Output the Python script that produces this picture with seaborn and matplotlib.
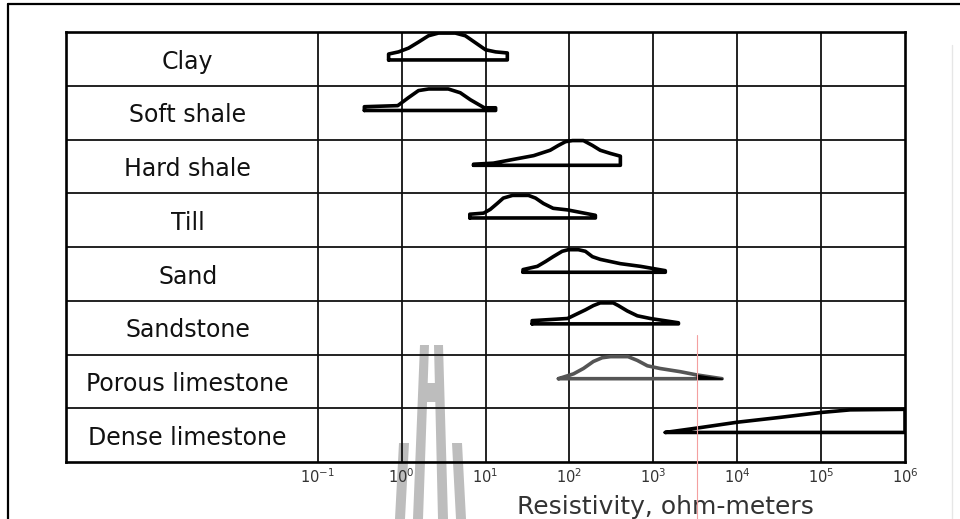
import numpy as np
import pandas as pd
import matplotlib
matplotlib.use("Agg")
import matplotlib.pyplot as plt
import seaborn as sns
from matplotlib.lines import Line2D
from matplotlib.patches import Polygon
from matplotlib.ticker import NullLocator

# ---------------- data ----------------
rocks = ["Clay", "Soft shale", "Hard shale", "Till", "Sand",
         "Sandstone", "Porous limestone", "Dense limestone"]

# level of the base line of each range, as fraction of row height
baseline = [0.48, 0.54, 0.52, 0.54, 0.53, 0.57, 0.55, 0.55]

# upper outline of each range: resistivity (ohm-m) and height (fraction of row)
clay_res = [0.70, 0.92, 1.21, 1.58, 2.09, 2.75, 4.37, 5.75, 7.59, 10, 13.2, 18.2]
clay_frac = [0.59, 0.63, 0.70, 0.81, 0.93, 0.98, 0.98, 0.93, 0.80, 0.67, 0.63, 0.61]

softshale_res = [0.36, 0.90, 1.21, 1.59, 2.1, 3.6, 5.0, 6.6, 8.3, 9.7, 13.2]
softshale_frac = [0.61, 0.63, 0.78, 0.91, 0.94, 0.94, 0.87, 0.74, 0.65, 0.59, 0.59]

hardshale_res = [7.2, 12.4, 21.5, 37.5, 59, 74, 90, 109, 147, 188, 233, 309, 405]
hardshale_frac = [0.54, 0.56, 0.63, 0.70, 0.80, 0.89, 0.96, 0.98, 0.98, 0.89, 0.80, 0.74, 0.69]

till_res = [6.5, 9.5, 11.4, 13.8, 16.3, 21, 32.5, 39.5, 49, 64, 95, 204]
till_frac = [0.61, 0.63, 0.70, 0.81, 0.91, 0.96, 0.96, 0.91, 0.81, 0.72, 0.69, 0.59]

sand_res = [28, 41.5, 52, 64, 82, 97, 128, 155, 188, 233, 405, 705, 1390]
sand_frac = [0.58, 0.64, 0.73, 0.82, 0.92, 0.95, 0.95, 0.92, 0.82, 0.77, 0.69, 0.64, 0.56]

sandstone_res = [36, 95, 125, 155, 193, 233, 333, 383, 490, 645, 920, 1995]
sandstone_frac = [0.63, 0.67, 0.76, 0.83, 0.91, 0.96, 0.96, 0.91, 0.81, 0.72, 0.67, 0.59]

porous_res = [74, 112, 147, 193, 246, 309, 500, 645, 850, 1200, 2100, 3300, 6600]
porous_frac = [0.55, 0.64, 0.74, 0.87, 0.94, 0.96, 0.96, 0.89, 0.79, 0.74, 0.68, 0.62, 0.55]

dense_res = [1390, 3630, 10000, 32400, 97700, 222000, 1000000]
dense_frac = [0.55, 0.64, 0.74, 0.83, 0.92, 0.97, 0.98]

curve_res = [clay_res, softshale_res, hardshale_res, till_res, sand_res,
             sandstone_res, porous_res, dense_res]
curve_frac = [clay_frac, softshale_frac, hardshale_frac, till_frac, sand_frac,
              sandstone_frac, porous_frac, dense_frac]

tick_values = [1e-1, 1e0, 1e1, 1e2, 1e3, 1e4, 1e5, 1e6]
tick_labels = [r"$10^{-1}$", r"$10^{0}$", r"$10^{1}$", r"$10^{2}$",
               r"$10^{3}$", r"$10^{4}$", r"$10^{5}$", r"$10^{6}$"]
xlabel = "Resistivity, ohm-meters"

# ---------------- build outline table ----------------
n = len(rocks)
rows = []
for i, rock in enumerate(rocks):
    bottom = n - 1 - i
    b = bottom + baseline[i]
    xs = [curve_res[i][0]] + list(curve_res[i]) + [curve_res[i][-1], curve_res[i][0]]
    ys = [b] + [bottom + f for f in curve_frac[i]] + [b, b]
    for k, (x, y) in enumerate(zip(xs, ys)):
        rows.append({"rock": rock, "order": k, "x": x, "y": y})
df = pd.DataFrame(rows)

# ---------------- figure ----------------
sns.set_theme(style="white")
plt.rcParams["font.family"] = ["DejaVu Sans"]

W, H = 960, 519
fig = plt.figure(figsize=(9.6, 5.19), dpi=100, facecolor="white")

def fx(px):
    return px / W

def fy(py):
    return 1 - py / H

ax = fig.add_axes([fx(66), fy(462), fx(905) - fx(66), fy(32) - fy(462)])
ax.set_facecolor("none")
ax.set_xscale("log")
ax.set_xlim(1e-4, 1e6)
ax.set_ylim(0, n)

# grid of the table
for v in tick_values[:-1]:
    ax.axvline(v, color="#111111", lw=1.3, zorder=1)
for k in range(1, n):
    ax.axhline(k, color="#111111", lw=1.3, zorder=1)

palette = {r: "black" for r in rocks}
palette["Porous limestone"] = "#555555"
sns.lineplot(data=df, x="x", y="y", hue="rock", units="rock", estimator=None,
             sort=False, palette=palette, lw=2.6, legend=False, ax=ax, zorder=3,
             solid_joinstyle="round", solid_capstyle="round")

# filled dark tail of porous limestone
pi = rocks.index("Porous limestone")
pb = n - 1 - pi
tail_x = np.array(porous_res[-2:])
tail_y = np.array([pb + f for f in porous_frac[-2:]])
ax.fill_between(tail_x, pb + baseline[pi], tail_y, color="black", zorder=4)

# row labels
for i, rock in enumerate(rocks):
    ax.text(10 ** -2.55, n - 1 - i + 0.45, rock, ha="center", va="center",
            fontsize=17, color="#111111")

for s in ax.spines.values():
    s.set_visible(True)
    s.set_color("black")
    s.set_linewidth(1.9)

ax.set_yticks([])
ax.set_xticks(tick_values)
ax.set_xticklabels(tick_labels)
ax.xaxis.set_minor_locator(NullLocator())
ax.tick_params(axis="x", length=0, pad=4, labelsize=10.5, labelcolor="#333333")
ax.set_xlabel(xlabel, fontsize=18, color="#333333")
ax.xaxis.set_label_coords((665 - 66) / (905 - 66), (462 - 507) / (462 - 32))
ax.xaxis.label.set_va("center")
ax.set_ylabel("")

# outer frame of the picture
fig.add_artist(Line2D([fx(8), 1.0], [fy(4), fy(4)], color="black", lw=1.6))
fig.add_artist(Line2D([fx(8), fx(8)], [fy(4), 0.0], color="black", lw=1.6))
fig.add_artist(Line2D([fx(952), fx(952)], [fy(45), 0.0], color="#e6e6e6", lw=1.0))

# faint red guide line
fig.add_artist(Line2D([fx(697), fx(697)], [fy(335), 0.0], color="#f4a0a0", lw=0.8))

# grey watermark
wm_color = "#bdbdbd"
wm_shapes = [
    [(420, 345), (429, 345), (423, 519), (413, 519)],
    [(434, 345), (443, 345), (448, 519), (438, 519)],
    [(426, 383), (437, 383), (437, 402), (426, 402)],
    [(399, 443), (409, 443), (405, 519), (395, 519)],
    [(452, 443), (462, 443), (466, 519), (456, 519)],
]
for shp in wm_shapes:
    fig.add_artist(Polygon([(fx(x), fy(y)) for x, y in shp], closed=True,
                           facecolor=wm_color, edgecolor="none", zorder=-1))

fig.savefig("out.png", dpi=100, facecolor="white")
